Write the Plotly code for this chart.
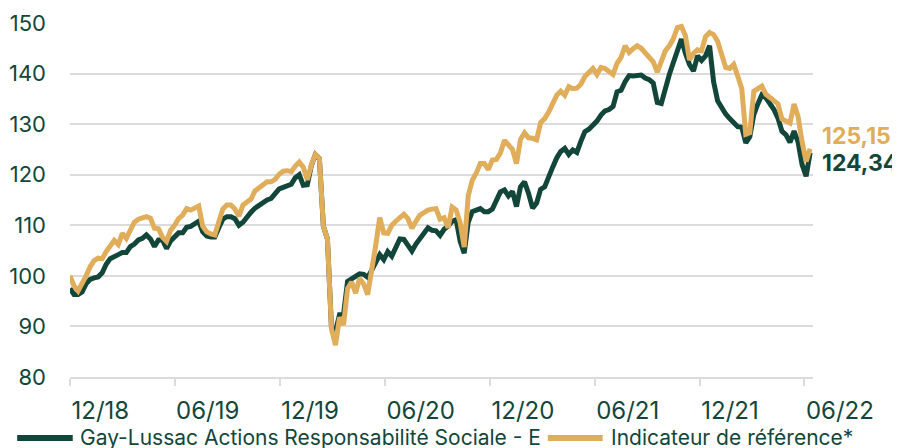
import pandas as pd
import plotly.graph_objects as go

# Weekly observation dates
dates = pd.date_range("2018-12-01", periods=185, freq="7D")

fund_name = "Gay-Lussac Actions Responsabilité Sociale - E"
bench_name = "Indicateur de référence*"

fund = [
    97.5, 96.3, 96.3, 96.8, 98.4, 99.3, 99.6, 99.8, 100.6, 102.3,
    103.4, 103.9, 104.2, 104.6, 104.6, 105.8, 106.3, 107.1, 107.4, 108.1,
    107.3, 105.8, 107.1, 107.1, 105.4, 106.9, 107.7, 108.5, 108.5, 109.6,
    109.8, 110.3, 110.8, 108.7, 107.9, 107.7, 107.7, 109.5, 111.2, 111.7,
    111.7, 111.3, 110.0, 110.6, 111.8, 112.6, 113.4, 114.0, 114.5, 115.0,
    115.3, 116.3, 117.2, 117.5, 117.8, 118.1, 119.4, 120.0, 117.9, 118.0,
    121.8, 124.0, 123.2, 109.8, 107.3, 89.8, 89.0, 92.3, 92.3, 98.9,
    99.4, 100.0, 100.4, 100.3, 99.7, 101.1, 102.7, 104.2, 103.2, 104.8,
    103.9, 105.9, 107.3, 107.2, 106.2, 104.9, 106.3, 107.4, 108.6, 109.5,
    109.0, 108.9, 108.0, 109.2, 109.8, 110.8, 111.1, 106.8, 104.5, 110.6,
    112.7, 113.1, 113.3, 112.7, 112.7, 113.2, 114.7, 116.6, 117.0, 115.8,
    116.7, 113.7, 117.6, 118.6, 116.3, 113.4, 114.4, 117.1, 117.6, 119.8,
    121.5, 123.3, 124.6, 125.2, 124.0, 124.9, 124.4, 126.6, 128.5, 129.0,
    129.8, 130.6, 131.8, 132.6, 132.9, 133.5, 136.4, 136.7, 138.4, 139.6,
    139.5, 139.5, 139.7, 139.1, 138.8, 138.1, 134.3, 134.1, 137.4, 139.8,
    142.2, 144.3, 146.8, 144.0, 141.8, 140.5, 143.5, 142.6, 143.5, 145.5,
    138.4, 134.6, 133.1, 132.0, 131.1, 130.3, 129.5, 129.4, 126.3, 127.5,
    131.9, 134.0, 135.8, 135.2, 134.0, 132.9, 131.2, 128.6, 127.9, 126.4,
    128.6, 126.5, 122.0, 119.7, 124.34,
]

bench = [
    100.0, 98.0, 97.0, 98.4, 100.0, 101.8, 103.0, 103.5, 103.4, 104.8,
    106.0, 107.0, 106.2, 108.4, 107.4, 109.0, 110.6, 111.2, 111.5, 111.7,
    111.4, 109.4, 109.3, 107.6, 106.8, 109.0, 110.0, 111.3, 112.0, 113.3,
    113.0, 113.5, 113.8, 109.8, 108.7, 108.3, 108.1, 110.7, 113.2, 114.0,
    114.0, 113.2, 111.8, 114.0, 114.6, 115.2, 116.8, 117.5, 117.9, 118.6,
    118.6, 119.1, 120.1, 120.7, 120.8, 120.6, 121.7, 122.5, 121.5, 119.0,
    121.9, 124.0, 123.2, 109.8, 107.3, 89.5, 86.3, 91.8, 90.3, 97.5,
    98.8, 96.6, 99.5, 98.4, 96.3, 100.5, 106.0, 111.5, 108.5, 108.4,
    110.0, 110.8, 111.5, 112.2, 111.3, 109.4, 110.8, 112.0, 112.5, 113.0,
    113.2, 113.3, 111.2, 111.5, 109.5, 113.6, 113.0, 110.5, 105.7, 115.8,
    118.9, 120.3, 122.2, 122.2, 121.0, 122.9, 123.0, 124.3, 126.8, 125.8,
    125.0, 122.2, 127.0, 128.3, 127.3, 127.2, 126.9, 130.3, 131.1, 132.4,
    134.0, 135.7, 136.5, 135.7, 137.4, 137.0, 137.1, 137.9, 139.4, 140.3,
    141.0, 139.8, 141.2, 141.0, 140.5, 139.8, 142.0, 143.2, 145.5, 144.2,
    144.9, 145.5, 145.0, 144.2, 143.4, 142.3, 140.3, 142.3, 144.5, 145.5,
    146.9, 149.1, 149.3, 147.5, 142.7, 144.0, 144.7, 144.5, 147.3, 148.1,
    147.7, 146.4, 144.0, 141.2, 141.0, 141.8, 139.5, 137.0, 128.0, 128.3,
    136.5, 137.0, 137.5, 135.9, 135.3, 134.5, 134.0, 131.0, 130.5, 130.2,
    134.0, 131.5, 126.5, 122.6, 125.15,
]

y_ticks = [80, 90, 100, 110, 120, 130, 140, 150]
x_tick_dates = ["2018-12-01", "2019-06-01", "2019-12-01", "2020-06-01",
                "2020-12-01", "2021-06-01", "2021-12-01", "2022-06-01"]
x_tick_labels = ["12/18", "06/19", "12/19", "06/20", "12/20", "06/21", "12/21", "06/22"]

GREEN = "#13463A"
GOLD = "#E0AD5B"
FONT = "Inter"

fig = go.Figure()
fig.add_trace(go.Scatter(x=dates, y=fund, mode="lines", name=fund_name,
                         line=dict(color=GREEN, width=5)))
fig.add_trace(go.Scatter(x=dates, y=bench, mode="lines", name=bench_name,
                         line=dict(color=GOLD, width=5)))

# end-of-series value labels
fmt = lambda v: f"{v:.2f}".replace(".", ",")
fig.add_annotation(x=dates[-1], y=bench[-1], text=f"<b>{fmt(bench[-1])}</b>", showarrow=False,
                   xanchor="left", yanchor="middle", xshift=10, yshift=13,
                   font=dict(family=FONT, size=23, color=GOLD))
fig.add_annotation(x=dates[-1], y=fund[-1], text=f"<b>{fmt(fund[-1])}</b>", showarrow=False,
                   xanchor="left", yanchor="middle", xshift=10, yshift=-10,
                   font=dict(family=FONT, size=23, color=GREEN))

# legend drawn below the plot (long line samples as in the original)
LEG_Y = -0.172
legend_items = [(fund_name, GREEN, -0.0711, 0.0037, 0.0104),
                (bench_name, GOLD, 0.643, 0.7169, 0.725)]
for name, color, x0, x1, xt in legend_items:
    fig.add_shape(type="line", xref="paper", yref="paper", x0=x0, x1=x1,
                  y0=LEG_Y, y1=LEG_Y, line=dict(color=color, width=6))
    fig.add_annotation(xref="paper", yref="paper", x=xt, y=LEG_Y, text=name,
                       showarrow=False, xanchor="left", yanchor="middle",
                       font=dict(family=FONT, size=21, color=GREEN))

# the page body adds an 8px offset, so the figure is 8px smaller than the window
fig.update_layout(
    width=892, height=440,
    margin=dict(l=62, r=87, t=15, b=71, autoexpand=False),
    plot_bgcolor="white", paper_bgcolor="white",
    font=dict(family=FONT, color=GREEN, size=24),
    showlegend=False,
)
fig.update_yaxes(range=[80, 150], tickvals=y_ticks, showgrid=True,
                 gridcolor="#DCDCDC", gridwidth=1.5, zeroline=False,
                 showline=False, ticks="", ticklabelstandoff=23, automargin=False,
                 tickfont=dict(family=FONT, size=22, color=GREEN))
fig.update_xaxes(range=["2018-12-01", "2022-06-16"], tickvals=x_tick_dates,
                 ticktext=x_tick_labels, showgrid=False, zeroline=False,
                 showline=True, linecolor="#DCDCDC", linewidth=1.5,
                 ticks="outside", ticklen=7, tickcolor="#DCDCDC", tickwidth=1.5,
                 ticklabelposition="outside right", ticklabelstandoff=11,
                 automargin=False,
                 tickfont=dict(family=FONT, size=24, color=GREEN))

fig.write_html("out.html")
